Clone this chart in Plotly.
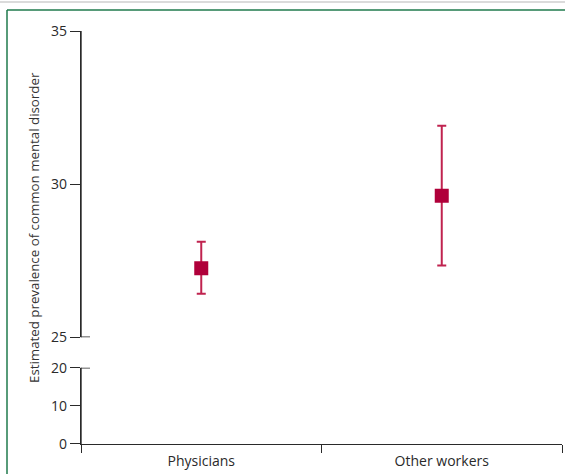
import plotly.graph_objects as go

categories = ["Physicians", "Other workers"]
estimates = [27.25, 29.62]
upper_ci = [28.12, 31.91]
lower_ci = [26.42, 27.34]

top_ticks = [25, 30, 35]
bottom_ticks = [0, 10, 20]
break_top = 25
break_bottom = 20

RED = "#b0003a"
INK = "#2a2a2a"
FONT = "Open Sans"

err_plus = [u - e for u, e in zip(upper_ci, estimates)]
err_minus = [e - l for e, l in zip(estimates, lower_ci)]

fig = go.Figure()
fig.add_trace(go.Scatter(
    x=categories, y=estimates, mode="markers",
    marker=dict(symbol="square", size=14, color=RED),
    error_y=dict(type="data", symmetric=False, array=err_plus, arrayminus=err_minus,
                 color="#c0234f", thickness=2, width=4.5),
    xaxis="x", yaxis="y", showlegend=False, hoverinfo="skip",
))
# empty trace so that the lower (broken) axis panel is drawn
fig.add_trace(go.Scatter(x=categories, y=[None, None], mode="markers",
                         xaxis="x", yaxis="y2", showlegend=False, hoverinfo="skip"))

axis_common = dict(showline=True, linecolor=INK, linewidth=1.3, ticks="outside",
                   tickwidth=1.3, tickcolor=INK, showgrid=False, zeroline=False,
                   tickfont=dict(family=FONT, size=14, color=INK))

fig.update_layout(
    width=565, height=474,
    margin=dict(l=81, r=3, t=31, b=30),
    paper_bgcolor="white", plot_bgcolor="white",
    xaxis=dict(type="category", categoryorder="array", categoryarray=categories,
               range=[-0.5, 1.5], tickson="boundaries", anchor="y2", ticklen=8,
               ticklabelstandoff=4, **axis_common),
    yaxis=dict(domain=[0.2584, 1], range=[25, 35], tickvals=top_ticks, anchor="x",
               ticklen=10, **axis_common),
    yaxis2=dict(domain=[0, 0.1847], range=[0, 20], tickvals=bottom_ticks, anchor="x",
                ticklen=10, **axis_common),
    font=dict(family=FONT, size=14, color=INK),
)

fig.add_annotation(
    text="Estimated prevalence of common mental disorder",
    xref="paper", yref="paper", x=(34 - 81) / 481, y=(444 - 228) / 413,
    textangle=-90, showarrow=False, xanchor="center", yanchor="middle",
    font=dict(family=FONT, size=13.3, color="#333333"),
)

# vertical axis lines of both panels of the broken axis
for yr in ["y domain", "y2 domain"]:
    fig.add_shape(type="line", xref="paper", yref=yr, x0=0, x1=0, y0=0, y1=1,
                  line=dict(color=INK, width=1.4), layer="above")

# inward break ticks at the axis break
fig.add_shape(type="line", xref="paper", yref="y", x0=0, x1=9 / 481,
              y0=break_top, y1=break_top, line=dict(color=INK, width=1.4), layer="above")
fig.add_shape(type="line", xref="paper", yref="y2", x0=0, x1=9 / 481,
              y0=break_bottom, y1=break_bottom, line=dict(color=INK, width=1.4), layer="above")

# decorative page frame
fig.add_shape(type="line", xref="paper", yref="paper",
              x0=(7 - 81) / 481, x1=(566 - 81) / 481, y0=(444 - 10) / 413, y1=(444 - 10) / 413,
              line=dict(color="#1f7a4d", width=1.5))
fig.add_shape(type="line", xref="paper", yref="paper",
              x0=(7 - 81) / 481, x1=(7 - 81) / 481, y0=(444 - 10) / 413, y1=(444 - 480) / 413,
              line=dict(color="#1f7a4d", width=1.5))
fig.add_shape(type="line", xref="paper", yref="paper",
              x0=(-1 - 81) / 481, x1=(566 - 81) / 481, y0=(444 - 2) / 413, y1=(444 - 2) / 413,
              line=dict(color="#cfcfcf", width=1.5))

fig.write_html("out.html", config={"displayModeBar": False},
               post_script="document.body.style.margin='0px';")
